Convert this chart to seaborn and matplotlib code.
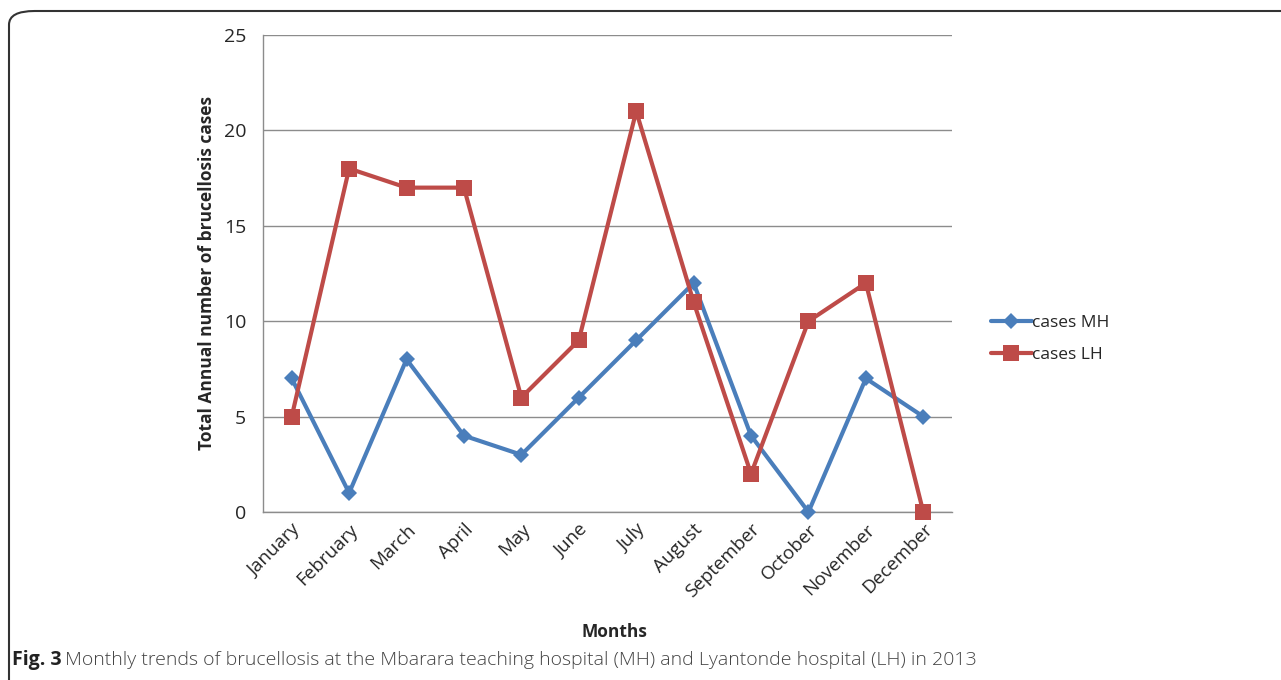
import matplotlib
matplotlib.use("Agg")
import matplotlib.pyplot as plt
from matplotlib.patches import FancyBboxPatch
from matplotlib.lines import Line2D
import seaborn as sns
import pandas as pd
import numpy as np

months = ["January", "February", "March", "April", "May", "June", "July",
          "August", "September", "October", "November", "December"]
cases_mh = [7, 1, 8, 4, 3, 6, 9, 12, 4, 0, 7, 5]
cases_lh = [5, 18, 17, 17, 6, 9, 21, 11, 2, 10, 12, 0]
series_names = ["cases MH", "cases LH"]
y_ticks = [0, 5, 10, 15, 20, 25]

sns.set_style("white")
plt.rcParams['font.family'] = ['Open Sans', 'DejaVu Sans']

fig = plt.figure(figsize=(12.81, 6.80), dpi=100)
ax = fig.add_axes([263/1281, 1-512/680, (952-263)/1281, (512-35)/680])

pos = np.arange(len(months))
df = pd.DataFrame({"pos": np.concatenate([pos, pos]),
                   "value": cases_mh + cases_lh,
                   "series": [series_names[0]]*12 + [series_names[1]]*12})
blue = "#4a7ebb"
red = "#be4b48"
sns.lineplot(data=df, x="pos", y="value", hue="series", style="series",
             palette={series_names[0]: blue, series_names[1]: red},
             markers={series_names[0]: "D", series_names[1]: "s"},
             dashes=False, linewidth=3, markersize=9, markeredgewidth=0,
             legend=False, ax=ax)
for ln in ax.get_lines():
    ln.set_clip_on(False)
    ln.set_zorder(5)
    if ln.get_marker() == "D":
        ln.set_markersize(8)
    elif ln.get_marker() == "s":
        ln.set_markersize(12)

ax.set_xlim(-0.5, 11.5)
ax.set_ylim(0, 25)
ax.set_yticks(y_ticks)
ax.set_yticklabels([str(t) for t in y_ticks], fontsize=14)
ax.set_xticks(pos)
ax.set_xticklabels(months, rotation=45, ha="right", rotation_mode="anchor", fontsize=13.5)
ax.set_xticks(np.arange(-0.5, 12, 1), minor=True)
ax.tick_params(axis="x", which="major", length=0, pad=6)
ax.tick_params(axis="x", which="minor", length=6, color="#8c8c8c", width=1, direction="out")
ax.tick_params(axis="y", length=6, color="#8c8c8c", width=1, direction="out", pad=6)
ax.grid(axis="y", color="#8c8c8c", linewidth=1)
ax.set_axisbelow(True)
for s in ["top", "right"]:
    ax.spines[s].set_visible(False)
for s in ["left", "bottom"]:
    ax.spines[s].set_color("#8c8c8c")
    ax.spines[s].set_linewidth(1)

ax.set_xlabel("")
ax.set_ylabel("")
fig.text(207/1281, 1-273/680, "Total Annual number of brucellosis cases", rotation=90,
         ha="center", va="center", fontsize=12.5, fontweight="bold")
fig.text(614/1281, 1-632/680, "Months", ha="center", va="center", fontsize=12.5, fontweight="bold")

handles = [Line2D([], [], color=blue, marker="D", linewidth=3, markersize=8, markeredgewidth=0),
           Line2D([], [], color=red, marker="s", linewidth=3, markersize=11, markeredgewidth=0)]
fig.legend(handles, series_names, loc="center left", bbox_to_anchor=(975/1281, 1-339/680),
           frameon=False, fontsize=12.5, handlelength=2.4, handletextpad=0.0,
           labelspacing=0.9)

# caption
fig.text(12/1281, 1-660/680, "Fig. 3", ha="left", va="center", fontsize=14,
         fontweight="bold", color="#222222")
fig.text(65/1281, 1-660/680,
         "Monthly trends of brucellosis at the Mbarara teaching hospital (MH) and Lyantonde hospital (LH) in 2013",
         ha="left", va="center", fontsize=14, color="#444444", fontweight="light")

# rounded border
box = FancyBboxPatch((9/1281, -0.2), 1.2, (1-11/680) + 0.2,
                     boxstyle="round,pad=0,rounding_size=0.02",
                     transform=fig.transFigure, fill=False, edgecolor="#333333",
                     linewidth=1.5, mutation_aspect=680/1281*1.9, clip_on=False)
fig.patches.append(box)

fig.savefig("out.png", dpi=100)
